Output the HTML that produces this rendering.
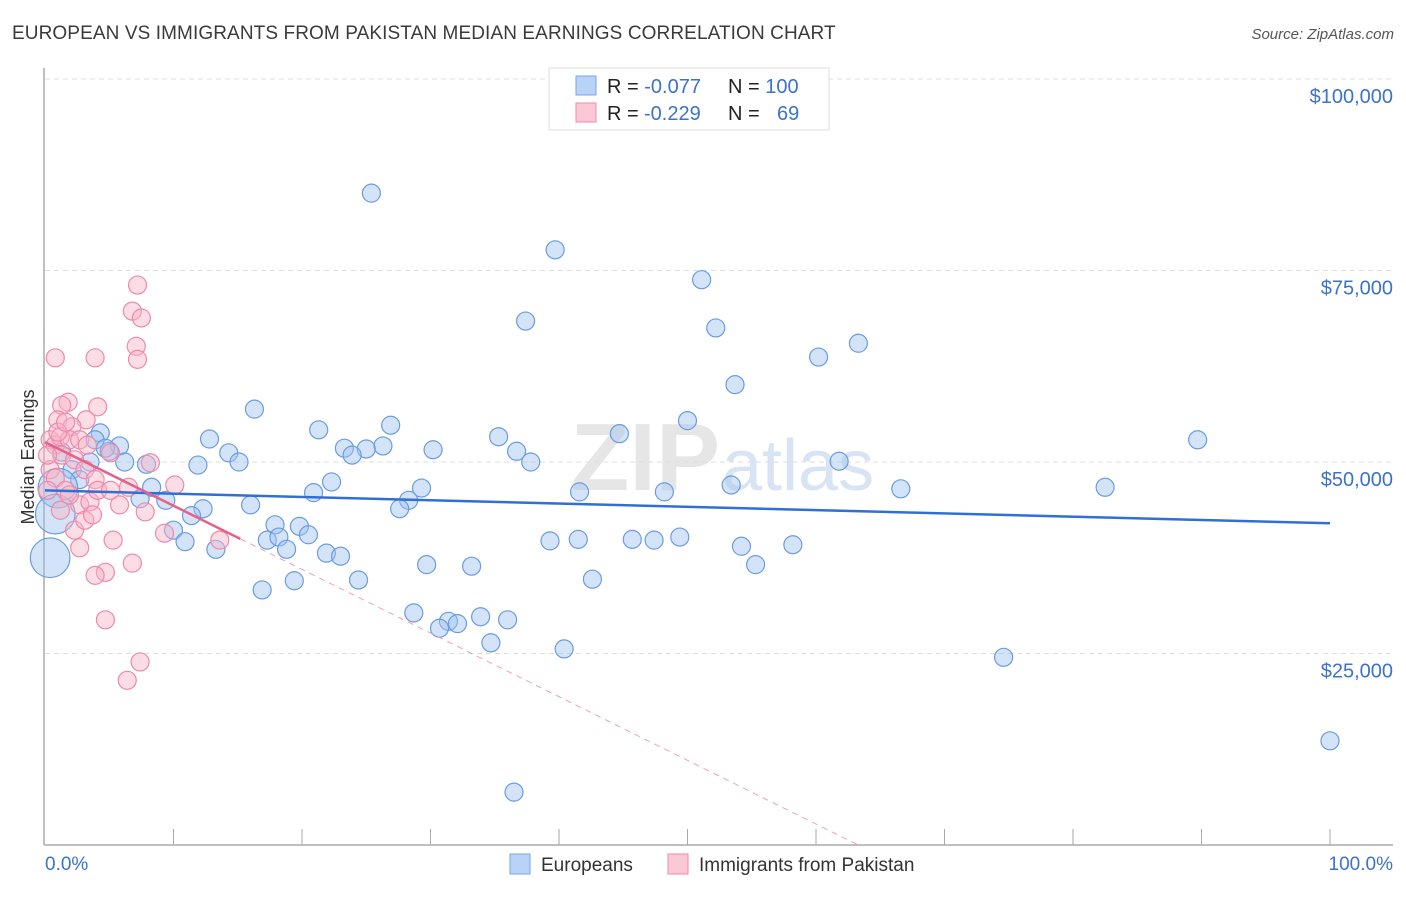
<!DOCTYPE html>
<html><head><meta charset="utf-8"><style>
body{margin:0;background:#fff;font-family:"Liberation Sans",sans-serif;}
svg text{font-family:"Liberation Sans",sans-serif;}
</style></head><body>
<svg id="chart" width="1406" height="892" viewBox="0 0 1406 892" xmlns="http://www.w3.org/2000/svg">
<text x="12" y="39" font-size="19" fill="#3a3a3a" letter-spacing="0.1">EUROPEAN VS IMMIGRANTS FROM PAKISTAN MEDIAN EARNINGS CORRELATION CHART</text>
<text x="1394" y="39" font-size="15" fill="#555" text-anchor="end" font-style="italic">Source: ZipAtlas.com</text>
<text x="720" y="490" font-size="96" fill="#e6e6e6" text-anchor="end" font-family="Liberation Serif" font-weight="bold">ZIP</text>
<text x="722" y="490" font-size="72" fill="#d8e4f4">atlas</text>
<g id="grid"></g>
<g id="axes"></g>
<g id="pts"></g>
<g id="trend"></g>
<text transform="translate(34,457) rotate(-90)" font-size="18" fill="#333" text-anchor="middle">Median Earnings</text>
<g>
<rect x="549" y="68" width="280" height="62" fill="#fff" stroke="#ddd"/>
<rect x="576" y="76" width="20" height="19" fill="#b8d3f5" stroke="#7aa6e6"/>
<rect x="576" y="103" width="20" height="19" fill="#fbc8d6" stroke="#f08aa8"/>
<text x="607" y="93" font-size="20" fill="#222">R = <tspan fill="#3b73c8">-0.077</tspan><tspan x="728">N = </tspan><tspan fill="#3b73c8">100</tspan></text>
<text x="607" y="120" font-size="20" fill="#222">R = <tspan fill="#3b73c8" x="644">-0.229</tspan><tspan x="728">N = </tspan><tspan fill="#3b73c8" x="777">69</tspan></text>
</g>
<g>
<rect x="510" y="854" width="20" height="20" fill="#b8d3f5" stroke="#7aa6e6"/>
<text x="541" y="871" font-size="19" fill="#333">Europeans</text>
<rect x="668" y="854" width="20" height="20" fill="#fbc8d6" stroke="#f08aa8"/>
<text x="699" y="871" font-size="19" fill="#333">Immigrants from Pakistan</text>
</g>
<script>
const yTicks=[25000,50000,75000,100000];
const yTickLabels=["$25,000","$50,000","$75,000","$100,000"];
const xTickLabels=["0.0%","100.0%"];
const blueX=[25.4,39.7,51.1,37.4,52.2,63.3,60.2,53.7,16.3,26.9,21.3,50.0,44.7,35.3,12.8,89.7,23.3,26.3,25.0,30.2,36.7,23.9,14.3,15.1,37.8,61.8,11.9,7.9,4.3,3.9,5.8,6.2,5.0,22.3,53.4,29.3,41.6,48.2,66.6,82.5,20.9,28.3,8.3,9.4,7.4,16.0,27.6,12.3,11.4,17.9,19.8,20.5,10.0,17.3,18.2,10.9,18.8,13.3,21.9,23.0,39.3,41.5,45.7,47.4,49.4,54.2,58.2,29.7,33.2,24.4,42.6,55.3,16.9,19.4,28.7,31.4,30.7,32.1,33.9,36.0,34.7,40.4,74.6,100,36.5,2.1,1.3,2.7,3.5,4.7,1.0,0.8,0.4];
const blueY=[85.1,77.7,73.8,68.4,67.5,65.5,63.7,60.1,56.9,54.8,54.2,55.4,53.7,53.3,53.0,52.9,51.8,52.1,51.7,51.6,51.4,50.9,51.2,50.0,50.0,50.1,49.6,49.7,53.8,52.9,52.1,50.0,51.4,47.4,47.0,46.6,46.1,46.1,46.5,46.7,46.0,45.0,46.7,45.0,45.2,44.4,43.9,43.9,43.0,41.8,41.6,40.5,41.1,39.8,40.2,39.6,38.6,38.6,38.1,37.7,39.7,39.9,39.9,39.8,40.2,39.0,39.2,36.6,36.4,34.6,34.7,36.6,33.3,34.5,30.3,29.2,28.3,28.9,29.8,29.4,26.4,25.6,24.5,13.6,6.9,49.0,51.3,47.7,50.0,51.8,46.6,43.2,37.5];
const blueSize=[1,1,1,1,1,1,1,1,1,1,1,1,1,1,1,1,1,1,1,1,1,1,1,1,1,1,1,1,1,1,1,1,1,1,1,1,1,1,1,1,1,1,1,1,1,1,1,1,1,1,1,1,1,1,1,1,1,1,1,1,1,1,1,1,1,1,1,1,1,1,1,1,1,1,1,1,1,1,1,1,1,1,1,1,1,1,1,1,1,1,2.2,2.2,2.2];
const pinkX=[7.2,6.8,7.5,7.1,7.2,0.8,3.9,1.8,1.3,4.1,1.0,3.2,2.1,0.4,0.8,1.2,1.9,2.7,1.3,0.4,0.8,3.3,5.1,2.3,3.1,3.9,1.6,2.7,3.5,2.3,3.1,5.8,4.1,7.8,10.1,5.3,13.6,2.7,9.3,6.8,4.7,3.9,4.7,7.4,6.4,8.2,1.2,1.9,0.2,3.7,5.1,6.5,0.2,1.0,1.6];
const pinkY=[73.1,69.7,68.8,65.1,63.4,63.6,63.6,57.8,57.4,57.2,55.5,55.5,54.6,52.9,52.2,53.3,52.9,52.9,50.9,49.0,47.9,52.2,51.2,50.3,49.0,47.7,46.3,44.4,44.8,41.1,42.4,44.4,46.3,43.5,47.0,39.8,39.8,38.8,40.7,36.8,35.6,35.2,29.4,23.9,21.5,49.9,43.7,45.7,46.3,43.1,46.3,46.7,50.9,53.9,55.2];
const blueTrend=[46.3,42.0];
const pinkTrend=[52.6,-0.831];
const pinkSolidEnd=15.2;
const NS="http://www.w3.org/2000/svg";
const X=v=>45+v*12.85, Y=v=>845-v*7.66;
function mk(t,a,p){const e=document.createElementNS(NS,t);for(const k in a)e.setAttribute(k,a[k]);p.appendChild(e);return e;}
const grid=document.getElementById('grid'),axes=document.getElementById('axes'),pts=document.getElementById('pts'),tr=document.getElementById('trend');
yTicks.forEach((t,i)=>{const y=Y(t/1000);
const g=mk('line',{x1:45,x2:1393,y1:y,y2:y,stroke:'#ddd','stroke-dasharray':'5,4'},grid);


const l=mk('text',{x:1393,y:y+24,'font-size':20,fill:'#3b73c8','text-anchor':'end'},grid);l.textContent=yTickLabels[i];

});
const ax=mk('line',{x1:44,x2:44,y1:68,y2:845,stroke:'#aaa','stroke-width':1.5},axes);


const bx=mk('line',{x1:44,x2:1393,y1:845,y2:845,stroke:'#aaa','stroke-width':1.5},axes);


for(let i=1;i<=10;i++){const t=mk('line',{x1:X(i*10),x2:X(i*10),y1:829,y2:845,stroke:'#aaa'},axes);

}
const xl0=mk('text',{x:45,y:870,'font-size':19,fill:'#3b73c8'},axes);xl0.textContent=xTickLabels[0];


const xl1=mk('text',{x:1393,y:870,'font-size':19,fill:'#3b73c8','text-anchor':'end'},axes);xl1.textContent=xTickLabels[1];


blueX.forEach((v,i)=>{const c=mk('circle',{cx:X(v),cy:Y(blueY[i]),r:9*blueSize[i],fill:'rgba(160,195,240,0.45)',stroke:'#6b9be0','stroke-width':1.2},pts);

});
pinkX.forEach((v,i)=>{const c=mk('circle',{cx:X(v),cy:Y(pinkY[i]),r:9,fill:'rgba(248,180,200,0.45)',stroke:'#ee8aa8','stroke-width':1.2},pts);

});
const bl=mk('line',{x1:X(0),y1:Y(blueTrend[0]),x2:X(100),y2:Y(blueTrend[1]),stroke:'#2f6fd6','stroke-width':2.5},tr);


const pf=x=>pinkTrend[0]+pinkTrend[1]*x, pEnd=-pinkTrend[0]/pinkTrend[1];
const ps=mk('line',{x1:X(0),y1:Y(pf(0)),x2:X(pinkSolidEnd),y2:Y(pf(pinkSolidEnd)),stroke:'#e8608a','stroke-width':2.5},tr);


const pd=mk('line',{x1:X(pinkSolidEnd),y1:Y(pf(pinkSolidEnd)),x2:X(pEnd),y2:Y(0),stroke:'#eea0b8','stroke-width':1,'stroke-dasharray':'6,5'},tr);


</script>
</svg>
</body></html>
